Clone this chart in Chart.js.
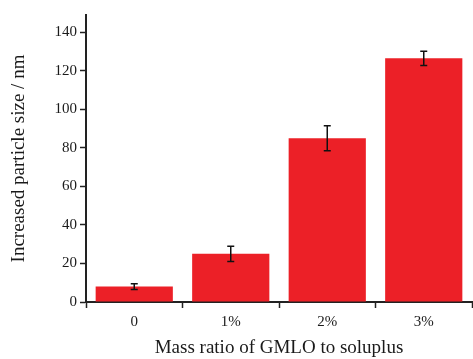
<!DOCTYPE html>
<html>
<head>
<meta charset="utf-8">
<script src="https://cdn.jsdelivr.net/npm/chart.js@4"></script>
<style>
  html, body { margin: 0; padding: 0; background: #fff; }
  #wrap { width: 473px; height: 359px; position: relative; }
</style>
</head>
<body>
<div id="wrap"><canvas id="sizeChart"></canvas></div>
<script>
// DATOS
const categorias = ['0', '1%', '2%', '3%'];
const valores = [8, 25, 85, 126.5];
const errores = [1.5, 4, 6.5, 3.7];

// barras de error
const errorBars = {
    id: 'errorBars',
    afterDatasetsDraw(chart) {
        const ctx = chart.ctx;
        const y = chart.scales.y;
        const meta = chart.getDatasetMeta(0);
        ctx.save();
        ctx.strokeStyle = '#111';
        ctx.lineWidth = 1.5;
        meta.data.forEach(function(bar, i) {
            const top = y.getPixelForValue(valores[i] + errores[i]);
            const bot = y.getPixelForValue(valores[i] - errores[i]);
            ctx.beginPath();
            ctx.moveTo(bar.x, top);
            ctx.lineTo(bar.x, bot);
            ctx.moveTo(bar.x - 3.5, top);
            ctx.lineTo(bar.x + 3.5, top);
            ctx.moveTo(bar.x - 3.5, bot);
            ctx.lineTo(bar.x + 3.5, bot);
            ctx.stroke();
        });
        ctx.restore();
    }
};

document.addEventListener('DOMContentLoaded', function() {
    const ctx = document.getElementById('sizeChart').getContext('2d');

    new Chart(ctx, {
        type: 'bar',
        data: {
            labels: categorias,
            datasets: [{
                data: valores,
                backgroundColor: '#ec2027',
                borderWidth: 0,
                categoryPercentage: 0.8,
                barPercentage: 1.0
            }]
        },
        options: {
            responsive: true,
            maintainAspectRatio: false,
            animation: false,
            layout: {
                padding: { top: 15, right: 1, left: 0, bottom: 0 }
            },
            plugins: {
                legend: { display: false },
                tooltip: { enabled: false }
            },
            scales: {
                x: {
                    afterFit: function(s) { s.height = 57; },
                    grid: {
                        drawOnChartArea: false,
                        drawTicks: true,
                        tickLength: 6,
                        tickWidth: 1.5,
                        color: '#222'
                    },
                    border: { display: true, color: '#222', width: 2 },
                    ticks: {
                        color: '#1a1a1a',
                        padding: 5,
                        font: { family: 'Liberation Serif', size: 15 }
                    },
                    title: {
                        display: true,
                        text: 'Mass ratio of GMLO to soluplus',
                        color: '#1a1a1a',
                        padding: { top: 9, bottom: 0 },
                        font: { family: 'Liberation Serif', size: 19 }
                    }
                },
                y: {
                    min: 0,
                    max: 149,
                    afterFit: function(s) { s.width = 86; },
                    afterBuildTicks: function(s) {
                        s.ticks = [0, 20, 40, 60, 80, 100, 120, 140].map(function(v) { return { value: v }; });
                    },
                    grid: {
                        drawOnChartArea: false,
                        drawTicks: true,
                        tickLength: 6,
                        tickWidth: 1.5,
                        color: '#222'
                    },
                    border: { display: true, color: '#222', width: 2 },
                    ticks: {
                        color: '#1a1a1a',
                        padding: 3,
                        font: { family: 'Liberation Serif', size: 15 }
                    },
                    title: {
                        display: true,
                        text: 'Increased particle size / nm',
                        color: '#1a1a1a',
                        padding: { top: 8, bottom: 4 },
                        font: { family: 'Liberation Serif', size: 19 }
                    }
                }
            }
        },
        plugins: [errorBars]
    });
});
</script>
</body>
</html>
